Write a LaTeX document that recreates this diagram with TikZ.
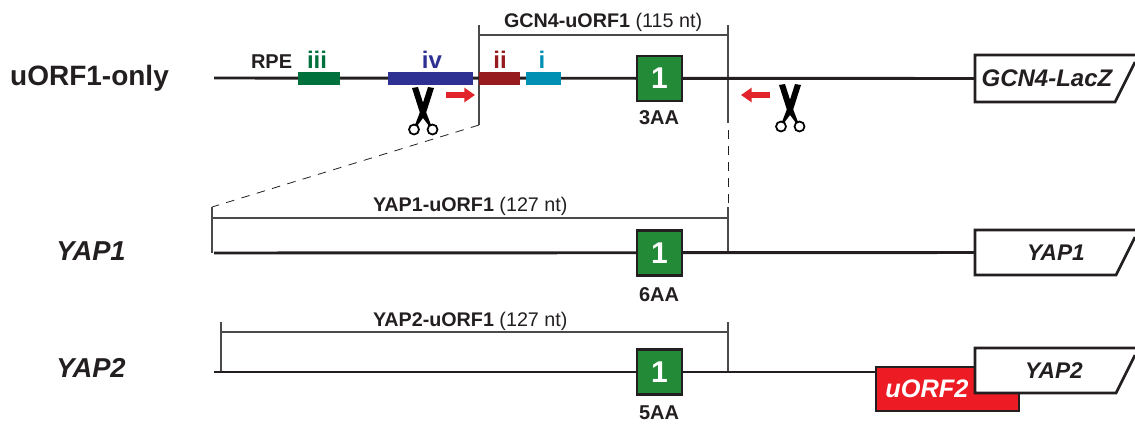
\documentclass[tikz,border=0pt]{standalone}
\usepackage{fontspec}
\setmainfont{Liberation Sans}
\usetikzlibrary{arrows.meta}
\definecolor{ink}{HTML}{231F20}
\definecolor{brgreen}{HTML}{00703C}
\definecolor{brblue}{HTML}{2E3192}
\definecolor{brdark}{HTML}{961B1E}
\definecolor{brcyan}{HTML}{0090B4}
\definecolor{orfgreen}{HTML}{238B38}
\definecolor{orfred}{HTML}{ED1C24}
\definecolor{arrowred}{HTML}{E1242B}
\definecolor{brk}{HTML}{4A4A4A}
\def\u{0.75pt}
\newcommand{\fs}[1]{\fontsize{#1}{#1}\selectfont}
\tikzset{
  every node/.style={inner sep=0pt,outer sep=0pt,text=ink},
  rnaline/.style={draw=ink,line width=2.2pt},
  brline/.style={draw=brk,line width=0.8pt},
  dashline/.style={draw=ink,line width=0.6pt,dash pattern=on 6.4pt off 5.6pt},
  barbox/.style={minimum height=13*\u},
  orfbox/.style={draw=ink,line width=2pt,fill=orfgreen,minimum width=45*\u,minimum height=45*\u,text=white,font=\fs{22.5}\bfseries},
  aalabel/.style={font=\fs{15}\bfseries},
  brlabel/.style={anchor=base west,font=\fs{14.8}},
  barlabel/.style={anchor=base,font=\fs{18}\bfseries},
  redarrow/.style={draw=arrowred,line width=3.8pt,-{Triangle[length=8pt,width=10.5pt]}},
  reporter/.style={draw=ink,line width=2pt,fill=white,line join=miter},
  scissors/.pic={
    \fill[black] (-11,-28) -- (-5,-29) -- (3,-4) -- (8,9) -- (6,10) -- (0,2) -- (-3,-3) -- cycle;
    \fill[black] (11,-28) -- (5,-29) -- (-3,-4) -- (-8,9) -- (-6,10) -- (0,2) -- (3,-3) -- cycle;
    \draw[black,line width=1.3pt,fill=white] (-9,13.5) circle[radius=5];
    \draw[black,line width=1.3pt,fill=white] (9.5,13.5) circle[radius=5];
  },
}
\begin{document}
\begin{tikzpicture}[x=0.75pt,y=-0.75pt]
\useasboundingbox (0,0) rectangle (1135,426);
% --- row coordinates
\coordinate (s1) at (214,78);
\coordinate (s2) at (214,253);
\coordinate (s3) at (214,372);
% --- brackets
\coordinate (a1) at (479,25);
\coordinate (a2) at (479,125);
\coordinate (a3) at (479,35);
\coordinate (b1) at (728,25);
\coordinate (b2) at (728,35);
\coordinate (b3) at (728,123);
\coordinate (b3d) at (728,130);
\coordinate (b4d) at (728,204);
\coordinate (b4) at (728,207);
\coordinate (c1) at (212,207);
\coordinate (c2) at (212,218);
\coordinate (c3) at (212,253);
\coordinate (c4) at (728,218);
\coordinate (c5) at (728,253);
\coordinate (d1) at (221,322);
\coordinate (d2) at (221,332);
\coordinate (d3) at (221,372);
\coordinate (e1) at (728,322);
\coordinate (e2) at (728,332);
\coordinate (e3) at (728,372);
\draw[brline] (a1) -- (a2);
\draw[brline] (a3) -- (b2);
\draw[brline] (b1) -- (b3);
\draw[dashline] (b3d) -- (b4d);
\draw[dashline] (a2) -- (c1);
\draw[brline] (b4) -- (c5);
\draw[brline] (c1) -- (c3);
\draw[brline] (c2) -- (c4);
\draw[brline] (d1) -- (d3);
\draw[brline] (d2) -- (e2);
\draw[brline] (e1) -- (e3);
% --- reporters
\node (gbox) at (1055,78.5) [minimum width=160*\u,minimum height=46*\u] {};
\draw[reporter] (1135,55) -- (975,55) -- (975,102) -- (1115,102) -- (1135,62);
\node[font=\fs{18}\bfseries\itshape] (gtext) at (1047,78.5) {GCN4-LacZ};
\node (ybox1) at (1055,252.5) [minimum width=160*\u,minimum height=45*\u] {};
\draw[reporter] (1135,230) -- (975,230) -- (975,275) -- (1116,275) -- (1135,237);
\node[font=\fs{17}\bfseries\itshape] (ytext1) at (1056,253) {YAP1};
\node[draw=ink,line width=2pt,fill=orfred,minimum width=143*\u,minimum height=44*\u] (u2box) at (947.5,389) {};
\node[font=\fs{19}\bfseries\itshape,text=white] (u2text) at (927,389) {uORF2};
\node (ybox2) at (1055,370.5) [minimum width=160*\u,minimum height=45*\u] {};
\draw[reporter] (1135,348) -- (975,348) -- (975,393) -- (1116,393) -- (1135,355);
\node[font=\fs{17}\bfseries\itshape] (ytext2) at (1054,371) {YAP2};
% --- RNA lines
\draw[rnaline] (s1) -- (gbox.west);
\draw[rnaline] (s2) -- (ybox1.west);
\draw[rnaline] (s3) -- (u2box.west |- s3);
% --- coloured bars
\node[barbox,fill=brgreen,minimum width=42*\u] (biii) at (319,78.5) {};
\node[barbox,fill=brblue,minimum width=85*\u] (biv) at (430.5,78.5) {};
\node[barbox,fill=brdark,minimum width=41*\u] (bii) at (499.5,78.5) {};
\node[barbox,fill=brcyan,minimum width=35*\u] (bi) at (543.5,78.5) {};
\node[barlabel,text=brgreen] (liii) at (317,68) {iii};
\node[barlabel,text=brblue] (liv) at (432,68) {iv};
\node[barlabel,text=brdark] (lii) at (500,68) {ii};
\node[barlabel,text=brcyan] (li) at (542,68) {i};
\node[anchor=base west,font=\fs{15}\bfseries] (rpe) at (251,68) {RPE};
% --- uORF1 squares
\node[orfbox] (o1) at (659.5,78.5) {1};
\node[orfbox] (o2) at (659.5,253) {1};
\node[orfbox] (o3) at (659.5,372) {1};
\node[aalabel] (aa1) at (659,118) {3AA};
\node[aalabel] (aa2) at (659,295) {6AA};
\node[aalabel] (aa3) at (659,413) {5AA};
% --- row names
\node[font=\fs{21}\bfseries] (n1) at (89.5,78.5) {uORF1-only};
\node[font=\fs{20.5}\bfseries\itshape] (n2) at (91,251) {YAP1};
\node[font=\fs{20.5}\bfseries\itshape] (n3) at (91,368) {YAP2};
% --- bracket labels
\node[brlabel] (t1) at (504,27) {\textbf{GCN4-uORF1} (115 nt)};
\node[brlabel] (t2) at (373,211) {\textbf{YAP1-uORF1} (127 nt)};
\node[brlabel] (t3) at (373,326) {\textbf{YAP2-uORF1} (127 nt)};
% --- red arrows
\coordinate (ra1) at (446,95);
\coordinate (ra2) at (475,95);
\coordinate (rb1) at (770,95);
\coordinate (rb2) at (741,95);
\draw[redarrow] (ra1) -- (ra2);
\draw[redarrow] (rb1) -- (rb2);
% --- scissors
\pic at (423,116) {scissors};
\pic at (790,113) {scissors};
\end{tikzpicture}
\end{document}
